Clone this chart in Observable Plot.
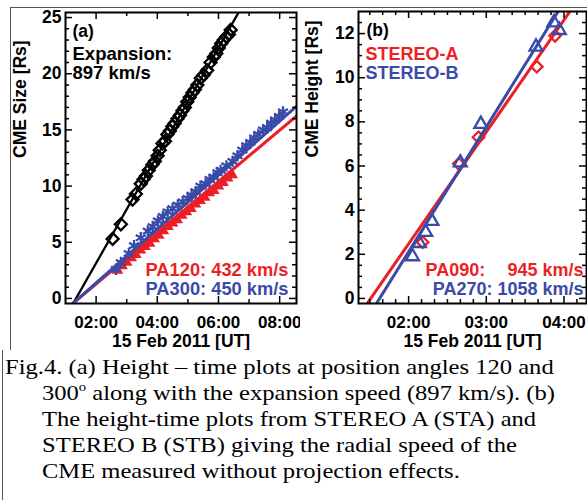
<!DOCTYPE html>
<html><head><meta charset="utf-8">
<script src="https://cdn.jsdelivr.net/npm/d3@7"></script>
<script src="https://cdn.jsdelivr.net/npm/@observablehq/plot@0.6"></script>
<style>
html,body{margin:0;padding:0;background:#fff;}
#wrap{position:relative;width:587px;height:500px;overflow:hidden;background:#fff;}
#pa{position:absolute;left:0;top:0;}
#pb{position:absolute;left:300px;top:0;}
#cap{position:absolute;left:5px;top:354px;font-family:"Liberation Serif","Times New Roman",serif;font-size:21px;line-height:26px;color:#000;white-space:nowrap;padding-left:31.6px;text-indent:-31.6px;transform:scaleX(1.17);transform-origin:0 0;}
#cap sup{font-size:0.6em;line-height:0;vertical-align:0.7em;}
.ln{position:absolute;background:#555;}
</style>
</head><body>
<div id="wrap">
  <div class="ln" style="left:10px;top:7px;width:577px;height:1px;"></div>
  <div class="ln" style="left:10px;top:7px;width:1px;height:343px;"></div>
  <div class="ln" style="left:2px;top:350px;width:1px;height:150px;"></div>
  <div id="pa"></div>
  <div id="pb"></div>
  <div id="cap">Fig.4. (a) Height – time plots at position angles 120 and<br>300<sup>o</sup> along with the expansion speed (897 km/s). (b)<br>The height-time plots from STEREO A (STA) and<br>STEREO B (STB) giving the radial speed of the<br>CME measured without projection effects.</div>
</div>
<script>
// ---------- Panel (a): CME size vs time (hours UT, 15 Feb 2011) ----------
const expT = [2.54,2.81,3.19,3.30,3.46,3.55,3.63,3.72,3.84,3.92,4.01,4.08,4.17,4.25,4.33,4.41,4.49,4.57,4.66,4.74,4.82,4.90,4.98,5.06,5.15,5.23,5.31,5.42,5.52,5.63,5.74,5.85,5.93,6.01,6.09,6.17,6.26,6.34,6.40];
const expV = [5.3,6.6,8.8,9.3,10.2,10.6,10.9,11.4,11.9,12.2,12.7,13.2,13.8,14.0,14.6,14.9,15.3,15.6,16.0,16.3,16.7,17.0,17.5,17.9,18.3,18.6,19.0,19.6,19.9,20.3,21.0,21.5,21.8,22.3,22.7,23.0,23.3,23.5,23.9];
const pa120T = [2.70,2.85,3.00,3.15,3.30,3.45,3.60,3.75,3.90,4.05,4.20,4.35,4.50,4.65,4.80,4.95,5.10,5.25,5.40,5.55,5.70,5.85,6.00,6.15,6.30,6.45];
const pa120V = [2.5,2.9,3.2,3.6,3.9,4.3,4.6,4.9,5.3,5.6,6.0,6.4,6.7,7.0,7.4,7.7,8.0,8.4,8.7,9.0,9.4,9.6,10.0,10.3,10.7,11.0];
const pa300T = [2.65,2.81,3.07,3.24,3.46,3.69,3.85,4.02,4.18,4.34,4.50,4.67,4.83,4.99,5.12,5.25,5.41,5.58,5.71,5.84,5.97,6.07,6.26,6.46,6.62,6.78,6.91,7.04,7.17,7.30,7.46,7.59,7.72,7.85,7.98,8.11];
const pa300V = [2.6,3.2,4.0,4.7,5.4,6.0,6.4,6.9,7.3,7.7,8.0,8.3,8.6,8.9,9.2,9.5,10.0,10.2,10.6,10.8,11.2,11.4,11.8,12.2,12.7,13.2,13.6,13.9,14.3,14.6,15.0,15.2,15.6,15.9,16.2,16.6];
// linear fits (end points)
const expFitT = [1.2, 6.7],  expFitV = [-0.69, 25.66];
const pa120FitT = [1.2, 8.6], pa120FitV = [-0.54, 16.34];
const pa300FitT = [1.2, 8.6], pa300FitV = [-0.54, 17.22];
const aXTicks = [2,4,6,8], aXMinor = [3,5,7];
const aYTicks = [0,5,10,15,20,25];
const aYMinor = [1,2,3,4,6,7,8,9,11,12,13,14,16,17,18,19,21,22,23,24];

// ---------- Panel (b): CME height vs time ----------
const staT = [2.18,2.645,2.90,3.65,3.885];
const staV = [2.55,6.1,7.3,10.5,11.9];
const stbT = [2.05,2.14,2.22,2.30,2.665,2.93,3.64,3.87,3.94];
const stbV = [1.9,2.5,3.0,3.5,6.15,7.9,11.4,12.5,12.15];
const staFitT = [1.4, 4.2], staFitV = [-0.57, 13.63];
const stbFitT = [1.5, 4.0], stbFitV = [-0.72, 13.43];
const bXTicks = [2,3,4];
const bXMinor = [1.5,1.6667,1.8333,2.1667,2.3333,2.5,2.6667,2.8333,3.1667,3.3333,3.5,3.6667,3.8333,4.1667];
const bYTicks = [0,2,4,6,8,10,12];
const bYMinor = [0.5,1,1.5,2.5,3,3.5,4.5,5,5.5,6.5,7,7.5,8.5,9,9.5,10.5,11,11.5,12.5];

const RED = "#ec1f26", BLUE = "#3a4aa8";
const FONT = "Liberation Sans, Arial, Helvetica, sans-serif";
const fmtH = h => String(h).padStart(2, "0") + ":00";
const pts = (T, V) => T.map((t, i) => ({t, v: V[i]}));

function frameTicks(xMaj, xMin, yMaj, yMin, iw, ih) {
  const M = 7, m = 4, s = {stroke: "black", strokeWidth: 1.5};
  return [
    Plot.tickX(xMaj, {x: d => d, insetTop: ih - M, ...s}),
    Plot.tickX(xMaj, {x: d => d, insetBottom: ih - M, ...s}),
    Plot.tickX(xMin, {x: d => d, insetTop: ih - m, ...s}),
    Plot.tickX(xMin, {x: d => d, insetBottom: ih - m, ...s}),
    Plot.tickY(yMaj, {y: d => d, insetRight: iw - M, ...s}),
    Plot.tickY(yMaj, {y: d => d, insetLeft: iw - M, ...s}),
    Plot.tickY(yMin, {y: d => d, insetRight: iw - m, ...s}),
    Plot.tickY(yMin, {y: d => d, insetLeft: iw - m, ...s})
  ];
}
const txt = (s, o) => Plot.text([s], {text: d => d, fontSize: 17.5, fontWeight: "bold", fontFamily: FONT, lineAnchor: "middle", ...o});

const plotA = Plot.plot({
  width: 300, height: 350,
  marginLeft: 65, marginRight: 4, marginTop: 12, marginBottom: 47,
  style: {fontFamily: FONT, fontWeight: "bold", background: "transparent"},
  x: {domain: [1.0, 8.55]},
  y: {domain: [-0.45, 25.45]},
  marks: [
    Plot.dot(pts(expT, expV), {x: "t", y: "v", symbol: "diamond2", r: 5.4, stroke: "black", strokeWidth: 2.3}),
    Plot.line(pts(expFitT, expFitV), {x: "t", y: "v", stroke: "black", strokeWidth: 2.3, clip: true}),
    Plot.dot(pts(pa120T, pa120V), {x: "t", y: "v", symbol: "triangle", r: 4.3, fill: RED}),
    Plot.line(pts(pa120FitT, pa120FitV), {x: "t", y: "v", stroke: RED, strokeWidth: 3, clip: true}),
    Plot.dot(pts(pa300T, pa300V), {x: "t", y: "v", symbol: "asterisk", r: 5.4, stroke: BLUE, strokeWidth: 2.3}),
    Plot.line(pts(pa300FitT, pa300FitV), {x: "t", y: "v", stroke: BLUE, strokeWidth: 3, clip: true}),
    ...frameTicks(aXTicks, aXMinor, aYTicks, aYMinor, 231, 291),
    Plot.frame({stroke: "black", strokeWidth: 2}),
    Plot.axisX({ticks: aXTicks, tickFormat: fmtH, tickSize: 0, tickPadding: 12, fontSize: 17, fontWeight: "bold", label: null}),
    Plot.axisY({ticks: aYTicks, tickSize: 0, tickPadding: 4, fontSize: 17.5, fontWeight: "bold", label: null}),
    txt("15 Feb 2011 [UT]", {frameAnchor: "bottom", dy: 38}),
    txt("CME Size [Rs]", {frameAnchor: "left", dx: -45, rotate: -90}),
    txt("(a)", {frameAnchor: "top-left", dx: 7, dy: 18.5, textAnchor: "start"}),
    txt("Expansion:", {frameAnchor: "top-left", dx: 7, dy: 41.5, textAnchor: "start", fontSize: 18.5}),
    txt("897 km/s", {frameAnchor: "top-left", dx: 7, dy: 60.5, textAnchor: "start", fontSize: 18.5}),
    txt("PA120: 432 km/s", {frameAnchor: "bottom-right", dx: -8, dy: -33.5, textAnchor: "end", fill: RED, fontSize: 18.3}),
    txt("PA300: 450 km/s", {frameAnchor: "bottom-right", dx: -8, dy: -14.5, textAnchor: "end", fill: BLUE, fontSize: 18.3})
  ]
});
document.getElementById("pa").appendChild(plotA);

const plotB = Plot.plot({
  width: 287, height: 350,
  marginLeft: 58, marginRight: 1, marginTop: 11, marginBottom: 47,
  style: {fontFamily: FONT, fontWeight: "bold", background: "transparent"},
  x: {domain: [1.355, 4.29]},
  y: {domain: [-0.23, 13.0]},
  marks: [
    Plot.dot(pts(staT, staV), {x: "t", y: "v", symbol: "diamond2", r: 5.2, stroke: RED, strokeWidth: 2.3}),
    Plot.line(pts(staFitT, staFitV), {x: "t", y: "v", stroke: RED, strokeWidth: 3, clip: true}),
    Plot.dot(pts(stbT, stbV), {x: "t", y: "v", symbol: "triangle2", r: 6.2, stroke: BLUE, strokeWidth: 2.3}),
    Plot.line(pts(stbFitT, stbFitV), {x: "t", y: "v", stroke: BLUE, strokeWidth: 3, clip: true}),
    ...frameTicks(bXTicks, bXMinor, bYTicks, bYMinor, 228, 292),
    Plot.frame({stroke: "black", strokeWidth: 2}),
    Plot.axisX({ticks: bXTicks, tickFormat: fmtH, tickSize: 0, tickPadding: 12, fontSize: 17, fontWeight: "bold", label: null}),
    Plot.axisY({ticks: bYTicks, tickSize: 0, tickPadding: 4, fontSize: 17.5, fontWeight: "bold", label: null}),
    txt("15 Feb 2011 [UT]", {frameAnchor: "bottom", dy: 38}),
    txt("CME Height [Rs]", {frameAnchor: "left", dx: -46.5, rotate: -90}),
    txt("(b)", {frameAnchor: "top-left", dx: 8, dy: 19, textAnchor: "start"}),
    txt("STEREO-A", {frameAnchor: "top-left", dx: 7, dy: 42.5, textAnchor: "start", fill: RED, fontSize: 18}),
    txt("STEREO-B", {frameAnchor: "top-left", dx: 7, dy: 61.5, textAnchor: "start", fill: BLUE, fontSize: 18}),
    txt("PA090:", {frameAnchor: "bottom-left", dx: 67, dy: -33, textAnchor: "start", fill: RED, fontSize: 18}),
    txt("945 km/s", {frameAnchor: "bottom-right", dx: -3, dy: -33, textAnchor: "end", fill: RED, fontSize: 18}),
    txt("PA270: 1058 km/s", {frameAnchor: "bottom-right", dx: -3, dy: -14.5, textAnchor: "end", fill: BLUE, fontSize: 18})
  ]
});
document.getElementById("pb").appendChild(plotB);
</script>
</body></html>
